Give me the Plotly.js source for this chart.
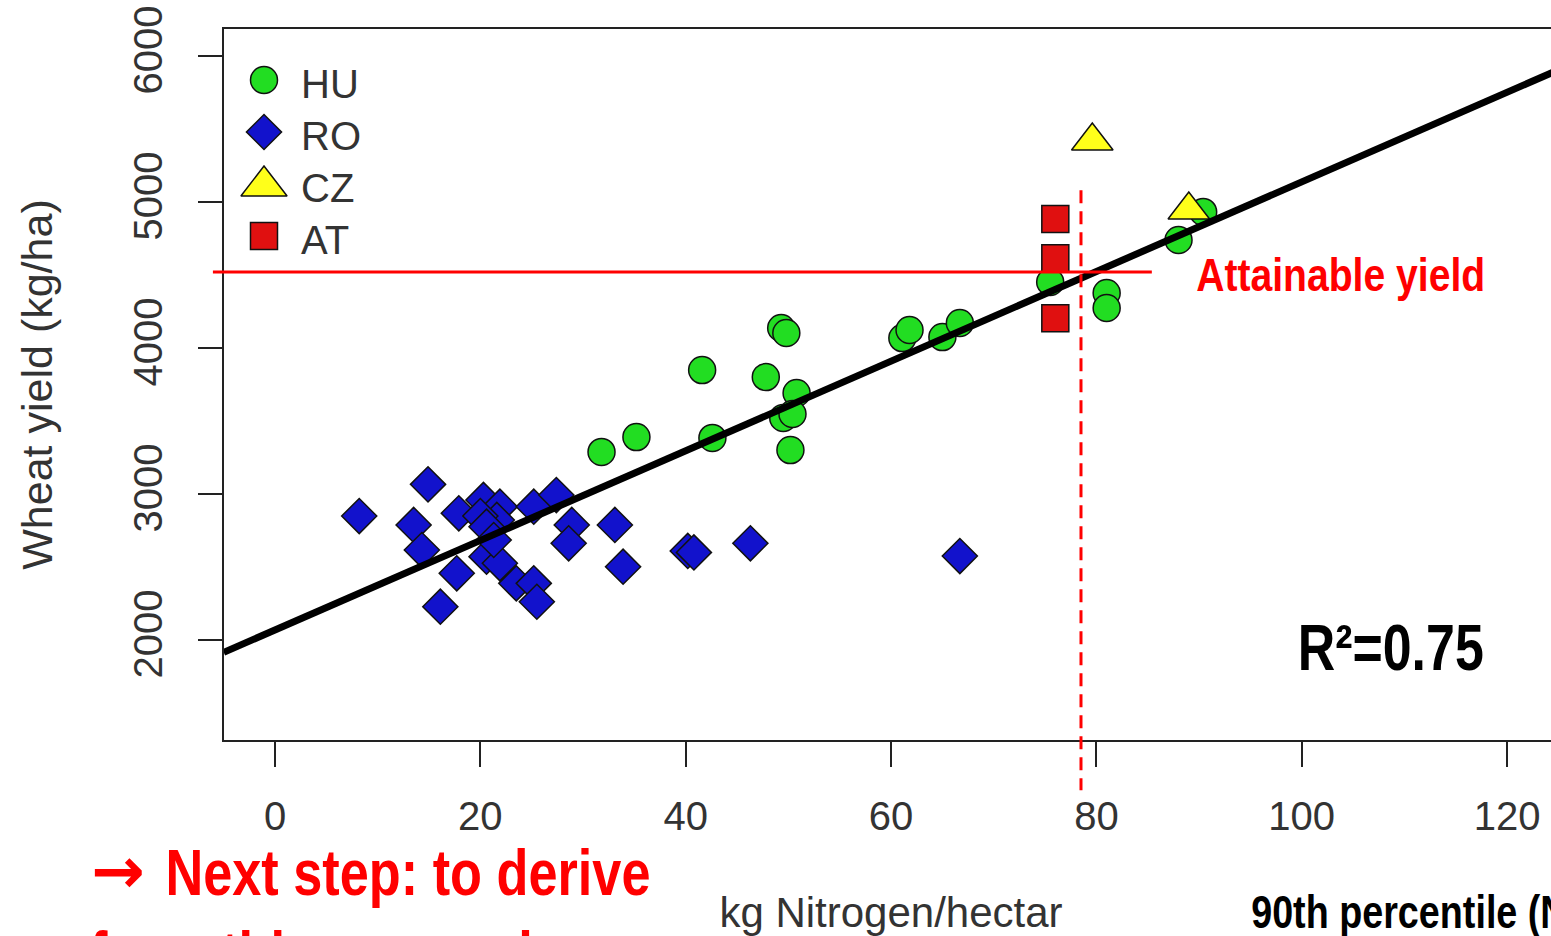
<!DOCTYPE html>
<html><head><meta charset="utf-8">
<script src="https://cdn.plot.ly/plotly-3.0.1.min.js"></script>
<style>html,body{margin:0;padding:0;overflow:hidden;background:#fff}#chart{width:1600px;height:936px}</style>
</head><body><div id="chart"></div><script>
// ---- data ----
const huNitrogen = [31.8, 35.2, 41.6, 42.6, 47.8, 49.3, 49.8, 50.8, 49.5, 50.4, 50.2, 61.1, 61.8, 65.0, 66.7, 75.5, 81.0, 81.0, 88.0, 90.4];
const huYield    = [3288, 3390, 3849, 3384, 3801, 4137, 4103, 3692, 3521, 3548, 3301, 4068, 4123, 4075, 4171, 4452, 4377, 4274, 4740, 4932];
const roNitrogen = [8.2, 14.9, 13.5, 14.3, 17.9, 20.3, 21.9, 21.6, 25.2, 27.4, 28.9, 28.6, 33.1, 33.9, 17.7, 20.6, 21.9, 23.5, 25.2, 25.5, 16.1, 20.0, 20.6, 21.3, 40.2, 40.8, 46.3, 66.7];
const roYield    = [2849, 3066, 2788, 2616, 2868, 2959, 2913, 2822, 2913, 2993, 2788, 2662, 2788, 2502, 2457, 2571, 2525, 2388, 2388, 2262, 2228, 2849, 2776, 2685, 2610, 2600, 2662, 2575];
const czNitrogen = [79.6, 89.0];
const czYield    = [5418, 4945];
const atNitrogen = [76.0, 76.0, 76.0];
const atYield    = [4884, 4614, 4203];
const fitNitrogen = [-5, 125];
const fitYield    = [1915, 5905];
const attainableYield = 4520;
const percentile90N = 78.5;
const countries = ['HU', 'RO', 'CZ', 'AT'];
const xTicks = [0, 20, 40, 60, 80, 100, 120];
const yTicks = [2000, 3000, 4000, 5000, 6000];

// ---- layout geometry ----
const W = 1600, H = 936;
const M = {l: 224, r: 42, t: 29, b: 196};
const xRange = [-4.97, 124.96];
const yRange = [1315, 6185];
const plotW = W - M.l - M.r, plotH = H - M.t - M.b;
const xp = v => (v - xRange[0]) / (xRange[1] - xRange[0]);
const yp = v => (v - yRange[0]) / (yRange[1] - yRange[0]);
const pxX = px => (px - M.l) / plotW;
const pxY = py => (M.t + plotH - py) / plotH;

const styles = {
  HU: {symbol: 'circle', color: '#22dd22', size: 27},
  RO: {symbol: 'diamond', color: '#1212cc', size: 27},
  CZ: {symbol: 'triangle-up', color: '#ffff1a', size: 36},
  AT: {symbol: 'square', color: '#e01010', size: 27}
};
const mk = c => ({symbol: styles[c].symbol, color: styles[c].color, size: styles[c].size, opacity: 1, line: {color: '#111', width: 1.5}});

const traces = [
  {x: huNitrogen, y: huYield, name: 'HU', mode: 'markers', type: 'scatter', marker: mk('HU')},
  {x: roNitrogen, y: roYield, name: 'RO', mode: 'markers', type: 'scatter', marker: mk('RO')},
  {x: czNitrogen, y: czYield, name: 'CZ', mode: 'markers', type: 'scatter', marker: mk('CZ')},
  {x: atNitrogen, y: atYield, name: 'AT', mode: 'markers', type: 'scatter', marker: mk('AT')},
  {x: fitNitrogen, y: fitYield, name: 'fit', mode: 'lines', type: 'scatter', line: {color: '#000', width: 7}}
];

// custom legend (pixel-space overlay axes)
const legX = 40, legY0 = 51, legStep = 52;
traces.push({
  x: countries.map(() => legX),
  y: countries.map((c, i) => legY0 + legStep * i + (c === 'CZ' ? 2 : 0)),
  xaxis: 'x2', yaxis: 'y2', mode: 'markers', type: 'scatter', hoverinfo: 'skip',
  marker: {
    symbol: countries.map(c => styles[c].symbol),
    color: countries.map(c => styles[c].color),
    size: countries.map(c => c === 'CZ' ? 40 : styles[c].size),
    opacity: 1,
    line: {color: '#111', width: 1.5}
  }
});

const axisFont = {family: 'Liberation Sans, Arial, sans-serif', size: 40, color: '#333'};
const titleFontX = {family: 'Liberation Sans, Arial, sans-serif', size: 42, color: '#333'};
const titleFontY = {family: 'Liberation Sans, Arial, sans-serif', size: 43, color: '#333'};
const bold = 'Liberation Sans, Arial, sans-serif';

const annotations = countries.map((c, i) => ({
  xref: 'x2', yref: 'y2', x: 75, y: legY0 + legStep * i + 4, text: c, showarrow: false,
  xanchor: 'left', yanchor: 'middle', font: axisFont
}));
// slide texts: [text, centre x px, centre y px, font size, colour, squeezed width px, family]
const slideTexts = [
  ['<b>Attainable yield</b>', 1340, 274, 47, '#ff0000', 289, bold],
  ['<b>R²=0.75</b>', 1390, 648, 64, '#000000', 186, bold],
  ['<b>→</b>', 118, 871, 64, '#ff0000', 0, 'DejaVu Sans, sans-serif'],
  ['<b>Next step: to derive</b>', 408, 873, 64, '#ff0000', 485, bold],
  ['<b>from this regression</b>', 343, 955, 64, '#ff0000', 507, bold],
  ['<b>90th percentile (N)</b>', 1415, 912, 46, '#000000', 329, bold]
];
slideTexts.forEach(t => annotations.push({
  xref: 'paper', yref: 'paper', x: pxX(t[1]), y: pxY(t[2]), text: t[0], showarrow: false,
  xanchor: 'center', yanchor: 'middle', font: {family: t[6], size: t[3], color: t[4]}
}));

const shapes = [
  {type: 'line', xref: 'paper', yref: 'paper', x0: xp(-6.05), x1: xp(85.4), y0: yp(attainableYield), y1: yp(attainableYield),
   line: {color: '#ff0000', width: 3}, layer: 'above'},
  {type: 'line', xref: 'paper', yref: 'paper', x0: xp(percentile90N), x1: xp(percentile90N), y0: yp(5080), y1: yp(970),
   line: {color: '#ff0000', width: 3, dash: '13px,8px'}, layer: 'above'}
];

const layout = {
  width: W, height: H, margin: M, showlegend: false,
  paper_bgcolor: '#fff', plot_bgcolor: '#fff',
  xaxis: {range: xRange, tickvals: xTicks, ticktext: xTicks.map(String), ticks: 'outside', ticklen: 25, tickwidth: 2, tickcolor: '#222',
          showline: true, mirror: true, linecolor: '#222', linewidth: 2, showgrid: false, zeroline: false, ticklabelstandoff: 15,
          tickfont: axisFont, title: {text: 'kg Nitrogen/hectar', font: titleFontX, standoff: 61}},
  yaxis: {range: yRange, tickvals: yTicks, ticktext: yTicks.map(String), ticks: 'outside', ticklen: 24, tickwidth: 2, tickcolor: '#222',
          showline: true, mirror: true, linecolor: '#222', linewidth: 2, showgrid: false, zeroline: false, tickangle: -90, ticklabelstandoff: 20,
          tickfont: axisFont, title: {text: 'Wheat yield (kg/ha)', font: titleFontY, standoff: 60}},
  xaxis2: {overlaying: 'x', range: [0, plotW], visible: false, fixedrange: true},
  yaxis2: {overlaying: 'y', range: [plotH, 0], visible: false, fixedrange: true},
  annotations: annotations, shapes: shapes
};
Plotly.newPlot('chart', traces, layout, {displayModeBar: false, staticPlot: true}).then(gd => {
  // squeeze the slide captions to the narrow bold face used in the original
  const base = countries.length;
  slideTexts.forEach((t, i) => {
    if (!t[5]) return;
    const el = gd.querySelector('g.annotation[data-index="' + (base + i) + '"] text.annotation-text');
    if (el) { el.setAttribute('textLength', t[5]); el.setAttribute('lengthAdjust', 'spacingAndGlyphs'); }
  });
});
</script></body></html>
